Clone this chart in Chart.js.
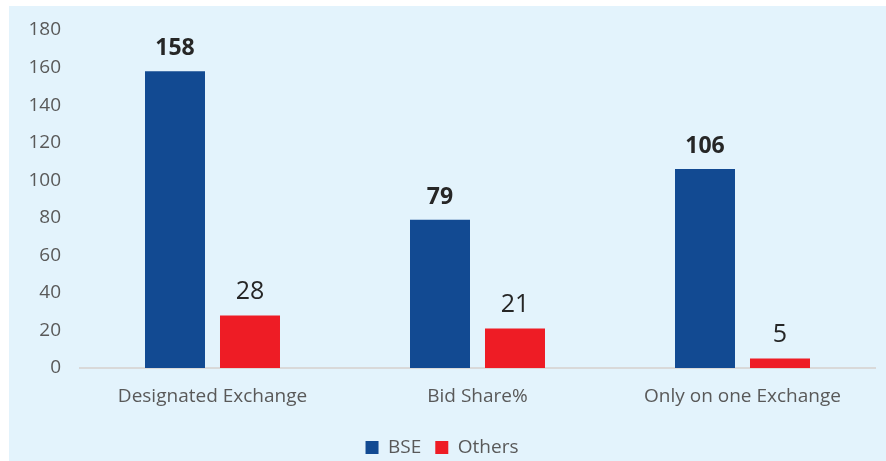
<!DOCTYPE html>
<html>
<head>
<meta charset="utf-8">
<script src="https://cdn.jsdelivr.net/npm/chart.js@4.4.0/dist/chart.umd.min.js"></script>
<style>
  body { margin: 0; background: #ffffff; }
  #panel { position: absolute; left: 9px; top: 6px; width: 877px; height: 455px; background: #e3f3fc; }
</style>
</head>
<body>
<div id="panel"><canvas id="barChart" width="877" height="455"></canvas></div>
<script>
var categories = ['Designated Exchange', 'Bid Share%', 'Only on one Exchange'];
var bseValues = [158, 79, 106];
var otherValues = [28, 21, 5];
var yTicks = [0, 20, 40, 60, 80, 100, 120, 140, 160, 180];

var fontFamily = "'Open Sans', 'Noto Sans', sans-serif";

// draw the numbers above the bars
var barLabels = {
    id: 'barLabels',
    afterDatasetsDraw: function(chart) {
        var ctx = chart.ctx;
        chart.data.datasets.forEach(function(ds, i) {
            var meta = chart.getDatasetMeta(i);
            meta.data.forEach(function(bar, j) {
                ctx.save();
                ctx.fillStyle = ds.labelColor;
                ctx.font = ds.labelFont;
                ctx.textAlign = 'center';
                ctx.textBaseline = 'bottom';
                ctx.fillText(ds.data[j], bar.x, bar.y - 11);
                ctx.restore();
            });
        });
    }
};

var barChartCanvas = document.getElementById('barChart').getContext('2d');
var barChart = new Chart(barChartCanvas, {
    type: 'bar',
    data: {
        labels: categories,
        datasets: [
            {
                label: 'BSE',
                data: bseValues,
                backgroundColor: '#124a92',
                labelColor: '#262626',
                labelFont: "bold 23px " + fontFamily,
                barPercentage: 0.8,
                categoryPercentage: 0.566
            },
            {
                label: 'Others',
                data: otherValues,
                backgroundColor: '#ee1c25',
                labelColor: '#262626',
                labelFont: "25px " + fontFamily,
                barPercentage: 0.8,
                categoryPercentage: 0.566
            }
        ]
    },
    options: {
        responsive: false,
        animation: false,
        layout: { padding: { left: 0, right: 11, top: 24, bottom: -6 } },
        plugins: {
            legend: {
                position: 'bottom',
                labels: {
                    boxWidth: 13,
                    boxHeight: 13,
                    padding: 14,
                    color: '#595959',
                    font: { family: fontFamily, size: 19 }
                }
            },
            tooltip: { enabled: false }
        },
        scales: {
            x: {
                grid: { display: false },
                border: { display: true, color: '#d9d9d9', width: 2 },
                afterFit: function(axis) { axis.height = 56; },
                ticks: {
                    color: '#595959',
                    padding: 9,
                    font: { family: fontFamily, size: 19 }
                }
            },
            y: {
                min: 0,
                max: 180,
                afterBuildTicks: function(axis) {
                    axis.ticks = yTicks.map(function(v) { return { value: v }; });
                },
                afterFit: function(axis) {
                    axis.width = 71;
                    axis.paddingTop = 0;
                    axis.paddingBottom = 0;
                },
                grid: { display: false },
                border: { display: false },
                ticks: {
                    color: '#595959',
                    padding: 11,
                    font: { family: fontFamily, size: 19 }
                }
            }
        }
    },
    plugins: [barLabels]
});
</script>
</body>
</html>
